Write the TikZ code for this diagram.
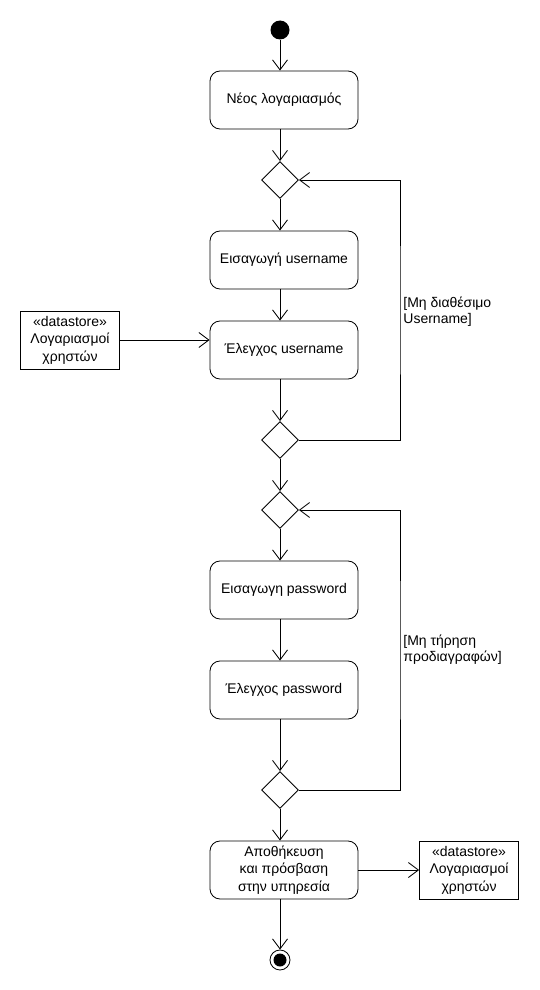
\documentclass[tikz,border=0pt]{standalone}
\usepackage{fontspec}
\setmainfont{Liberation Sans}
\usetikzlibrary{shapes.geometric,arrows.meta}
\begin{document}
\begin{tikzpicture}[x=1pt,y=-1pt,
  font=\fontsize{14}{17.5}\selectfont,
  every path/.style={line width=0.85pt},
  action/.style={draw, rectangle, rounded corners=10pt, minimum width=148pt,
    minimum height=58pt, align=center, inner sep=2pt},
  store/.style={draw, rectangle, minimum width=99pt, minimum height=58pt,
    align=center, inner sep=2pt},
  decision/.style={draw, diamond, minimum width=37pt, minimum height=37pt, inner sep=0pt},
  flow/.style={-{Straight Barb[length=10pt,width=15pt]}},
  guard/.style={anchor=north west, align=left, inner sep=0pt, font=\fontsize{14}{16}\selectfont}]
  \fill[white] (0,0) rectangle (540,990);
  \useasboundingbox (0,0) rectangle (540,990);

  % initial and final states
  \node[circle, fill=black, minimum size=19pt, inner sep=0pt] (start) at (280,30) {};
  \node[circle, draw, minimum size=20pt, inner sep=0pt] (stop) at (280,960) {};
  \fill (stop.center) circle (6.5pt);

  % actions
  \node[action] (new) at (284,100) {Νέος λογαριασμός};
  \node[decision] (d1) at (280,180) {};
  \node[action] (inuser) at (284,260) {Εισαγωγή username};
  \node[action] (chkuser) at (284,350) {Έλεγχος username};
  \node[store] (ds1) at (70,340) {«datastore»\\Λογαριασμοί\\χρηστών};
  \node[decision] (d2) at (280,440) {};
  \node[decision] (d3) at (280,510) {};
  \node[action] (inpass) at (284,590) {Εισαγωγη password};
  \node[action] (chkpass) at (284,690) {Έλεγχος password};
  \node[decision] (d4) at (280,790) {};
  \node[action] (save) at (284,870) {Αποθήκευση\\και πρόσβαση\\στην υπηρεσία};
  \node[store] (ds2) at (469,870) {«datastore»\\Λογαριασμοί\\χρηστών};

  % loop-back corners
  \coordinate (r1) at (400,310);
  \coordinate (r2) at (400,650);

  % main flow
  \draw[flow] (start) -- (start |- new.north);
  \draw[flow] (new.south -| d1) -- (d1.north);
  \draw[flow] (d1.south) -- (d1 |- inuser.north);
  \draw[flow] (inuser.south -| d1) -- (d1 |- chkuser.north);
  \draw[flow] (ds1.east) -- (ds1.east -| chkuser.west);
  \draw[flow] (chkuser.south -| d2) -- (d2.north);
  \draw[flow] (d2.south) -- (d3.north);
  \draw[flow] (d3.south) -- (d3 |- inpass.north);
  \draw[flow] (inpass.south -| d3) -- (d3 |- chkpass.north);
  \draw[flow] (chkpass.south -| d4) -- (d4.north);
  \draw[flow] (d4.south) -- (d4 |- save.north);
  \draw[flow] (save.east) -- (ds2.west);
  \draw[flow] (save.south -| stop) -- (stop.north);

  % retry loops
  \draw[flow] (d2.east) -| (r1) |- (d1.east);
  \draw[flow] (d4.east) -| (r2) |- (d3.east);
  \node[guard] (g1) at (403,297) {[Μη διαθέσιμο\\Username]};
  \node[guard] (g2) at (403,635) {[Μη τήρηση\\προδιαγραφών]};
\end{tikzpicture}
\end{document}
